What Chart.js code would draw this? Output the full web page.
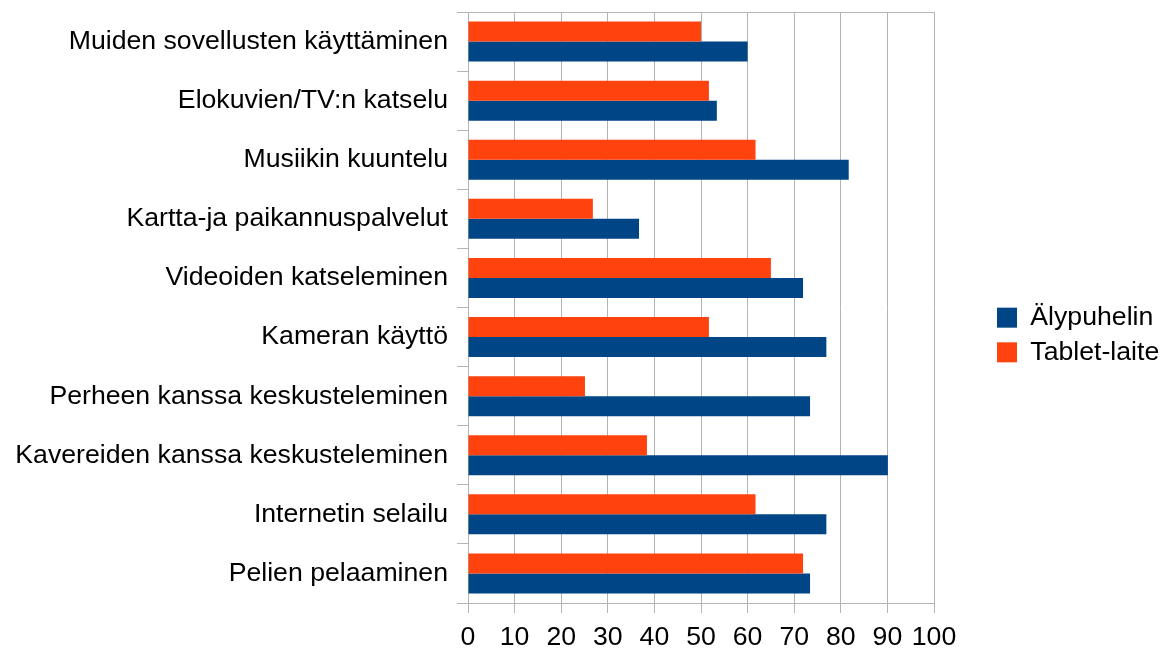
<!DOCTYPE html>
<html>
<head>
<meta charset="utf-8">
<script src="https://cdn.jsdelivr.net/npm/chart.js@4"></script>
<style>
  html, body { margin: 0; padding: 0; background: #fff; }
  #wrap { width: 1161px; height: 650px; }
</style>
</head>
<body>
<div id="wrap"><canvas id="chart"></canvas></div>
<script>
const categories = [
  'Muiden sovellusten käyttäminen',
  'Elokuvien/TV:n katselu',
  'Musiikin kuuntelu',
  'Kartta-ja paikannuspalvelut',
  'Videoiden katseleminen',
  'Kameran käyttö',
  'Perheen kanssa keskusteleminen',
  'Kavereiden kanssa keskusteleminen',
  'Internetin selailu',
  'Pelien pelaaminen'
];
const alypuhelin = [60.0, 53.4, 81.7, 36.7, 71.9, 76.9, 73.4, 90.1, 76.9, 73.4];
const tablet = [50.0, 51.7, 61.7, 26.8, 65.0, 51.7, 25.1, 38.4, 61.7, 71.9];
const xTicks = [0, 10, 20, 30, 40, 50, 60, 70, 80, 90, 100];

const gridColor = '#b3b3b3';
const font = { family: '"Liberation Sans", Arial, sans-serif', size: 26.67 };

new Chart(document.getElementById('chart'), {
  type: 'bar',
  data: {
    labels: categories,
    datasets: [
      // tablet first so it sits on top within each group
      { label: 'Tablet-laite', data: tablet, backgroundColor: '#ff420e' },
      { label: 'Älypuhelin', data: alypuhelin, backgroundColor: '#004586' }
    ]
  },
  options: {
    indexAxis: 'y',
    responsive: true,
    maintainAspectRatio: false,
    animation: false,
    categoryPercentage: 0.677,
    barPercentage: 1.0,
    layout: { padding: { top: 12, left: 0, right: 0, bottom: -8 } },
    plugins: {
      legend: {
        position: 'right',
        reverse: true,
        maxWidth: 172,
        labels: {
          boxWidth: 20,
          boxHeight: 20,
          padding: 8,
          color: '#000',
          font: font
        }
      },
      tooltip: { enabled: false }
    },
    scales: {
      x: {
        min: 0,
        max: 100,
        afterBuildTicks: (scale) => { scale.ticks = xTicks.map(v => ({ value: v })); },
        grid: { color: gridColor, tickLength: 10 },
        border: { color: gridColor },
        ticks: { color: '#000', font: font, padding: 9, maxRotation: 0, minRotation: 0, autoSkip: false },
        afterFit: (scale) => { scale.height = 55; }
      },
      x2: {
        type: 'linear',
        position: 'top',
        min: 0,
        max: 100,
        display: true,
        grid: { display: false },
        ticks: { display: false },
        border: { color: gridColor },
        afterFit: (scale) => { scale.height = 0; }
      },
      y: {
        grid: { drawOnChartArea: false, color: gridColor, tickLength: 11 },
        border: { color: gridColor },
        ticks: { color: '#000', font: font, padding: 9 },
        afterFit: (scale) => {
          scale.width = 468;
          scale.paddingTop = 0;
          scale.paddingBottom = 0;
        }
      },
      y2: {
        type: 'linear',
        position: 'right',
        display: true,
        grid: { display: false },
        ticks: { display: false },
        border: { display: false },
        afterFit: (scale) => { scale.width = 55; }
      }
    }
  }
});
</script>
</body>
</html>
